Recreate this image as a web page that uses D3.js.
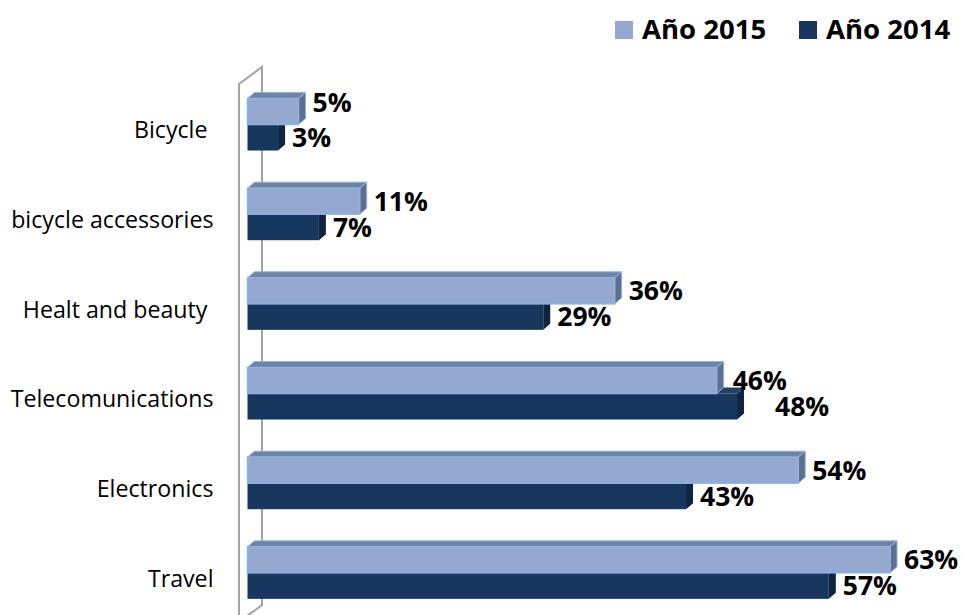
<!DOCTYPE html>
<html>
<head>
<meta charset="utf-8">
<script src="https://cdn.jsdelivr.net/npm/d3@7"></script>
<style>
  html, body { margin: 0; padding: 0; background: #ffffff; }
  svg { display: block; }
  text { font-family: "Open Sans", "Liberation Sans", sans-serif; }
  .cat { white-space: pre; }
</style>
</head>
<body>
<svg id="chart" width="962" height="615"></svg>
<script>
// Categories, top to bottom (trailing spaces kept as in the source labels)
const categories = ["Bicycle ", "bicycle accessories", "Healt and beauty ", "Telecomunications", "Electronics", "Travel"];
// Share per category, in percent
const values2015 = [5, 11, 36, 46, 54, 63];
const values2014 = [3, 7, 29, 48, 43, 57];
const seriesNames = ["Año 2015", "Año 2014"];

const W = 962, H = 615;
const svg = d3.select("#chart");

// Scales
const x = d3.scaleLinear().domain([0, 63]).range([247.5, 890]);
const y = d3.scaleBand().domain(categories).range([84, 622]);
const bw = y.bandwidth();

// 3D depth of the bars
const DX = 7, DY = -6;
// Depth of the wall
const WDX = 23, WDY = -17;

const colors = {
  lightFront: "#95a8d0", lightTop: "#7282a3", lightSide: "#5e6f90", lightEdge: "#8db4e2",
  darkFront: "#17375e", darkTop: "#233f64", darkSide: "#0e2441"
};

// Left wall drawn as a thin 3D frame
const wall = svg.append("g").attr("fill", "none").attr("stroke", "#a3a3a3").attr("stroke-width", 2);
const x0 = x(0) - 8.5;
wall.append("path").attr("d", `M${x0},${y.range()[1]} L${x0},${y.range()[0]} L${x0 + WDX},${y.range()[0] + WDY} L${x0 + WDX},${y.range()[1] + WDY} L${x0},${y.range()[1]}`);

// Bar geometry helpers
function barShapes(g, v, top, h, c, edge) {
  const xl = x(0), xr = x(v);
  // top face
  g.append("path")
    .attr("d", `M${xl},${top} L${xl + DX},${top + DY} L${xr + DX},${top + DY} L${xr},${top} Z`)
    .attr("fill", c.top).attr("stroke", edge || "none").attr("stroke-width", edge ? 1 : 0);
  // side face
  g.append("path")
    .attr("d", `M${xr},${top} L${xr + DX},${top + DY} L${xr + DX},${top + h + DY} L${xr},${top + h} Z`)
    .attr("fill", c.side).attr("stroke", edge || "none").attr("stroke-width", edge ? 1 : 0);
  // front face
  g.append("rect")
    .attr("x", xl).attr("y", top).attr("width", xr - xl).attr("height", h)
    .attr("fill", c.front).attr("stroke", edge || "none").attr("stroke-width", edge ? 1.5 : 0);
}

const offLight = 0.162 * bw, offDark = 0.452 * bw, barH = 0.29 * bw;

// Small label nudges to keep neighbouring labels apart
const labelNudge = { "0-2015": [0, -9], "3-2014": [24, 0], "3-2015": [2, 0] };

const bars = svg.append("g");
categories.forEach((cat, i) => {
  const g = bars.append("g");
  const b = y(cat);
  // 2014 bar sits below and behind the 2015 bar
  barShapes(g, values2014[i], b + offDark, barH,
    { top: colors.darkTop, side: colors.darkSide, front: colors.darkFront }, null);
  barShapes(g, values2015[i], b + offLight, barH,
    { top: colors.lightTop, side: colors.lightSide, front: colors.lightFront }, colors.lightEdge);
});

// Value labels
const labels = svg.append("g")
  .attr("font-size", 26.5).attr("font-weight", 700).attr("fill", "#000");
categories.forEach((cat, i) => {
  const b = y(cat);
  [[values2015[i], b + offLight, "2015"], [values2014[i], b + offDark, "2014"]].forEach(([v, top, key]) => {
    const n = labelNudge[i + "-" + key] || [0, 0];
    labels.append("text")
      .attr("x", x(v) + 14 + n[0])
      .attr("y", top + barH / 2 + 9.5 + n[1])
      .text(v + "%");
  });
});

// Category labels
svg.append("g").selectAll("text").data(categories).join("text")
  .attr("class", "cat")
  .attr("x", 213.5)
  .attr("y", d => y(d) + bw / 2 + 9.5)
  .attr("text-anchor", "end")
  .attr("font-size", 23.2)
  .attr("fill", "#000")
  .text(d => d);

// Legend
const legend = svg.append("g").attr("font-size", 27.5).attr("font-weight", 700);
const legendItems = [
  { name: seriesNames[0], color: colors.lightFront, x: 615 },
  { name: seriesNames[1], color: colors.darkFront, x: 799 }
];
legendItems.forEach(d => {
  legend.append("rect").attr("x", d.x).attr("y", 21).attr("width", 18).attr("height", 18).attr("fill", d.color);
  legend.append("text").attr("x", d.x + 27).attr("y", 39).text(d.name);
});
</script>
</body>
</html>
